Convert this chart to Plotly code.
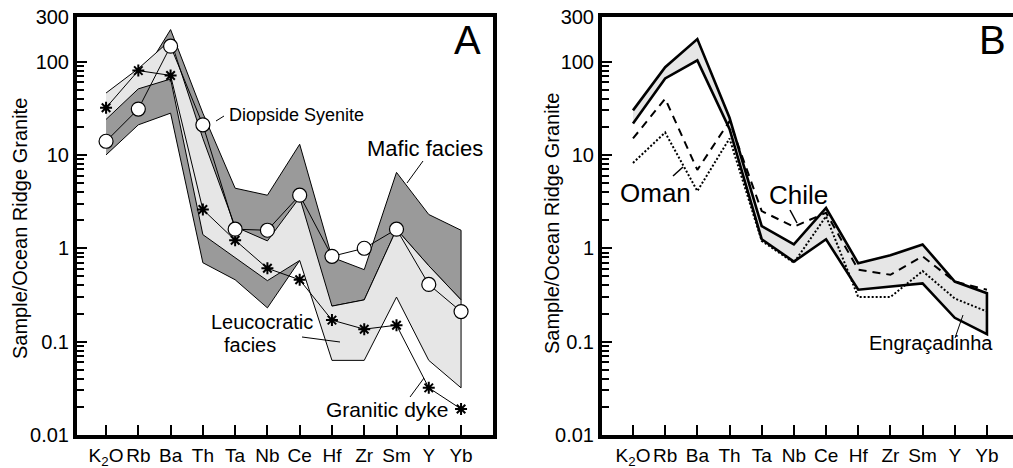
import math
import plotly.graph_objects as go

W, H = 1013, 468

elements = ["K<sub>2</sub>O", "Rb", "Ba", "Th", "Ta", "Nb", "Ce", "Hf", "Zr", "Sm", "Y", "Yb"]

# ---------- Panel A ----------
diopside_syenite = [14, 31, 146, 21, 1.6, 1.56, 3.7, 0.82, 1.0, 1.6, 0.41, 0.21]
granitic_dyke = [32, 80, 71, 2.6, 1.22, 0.61, 0.46, 0.17, 0.136, 0.15, 0.032, 0.019]
mafic_upper = [30, 60, 220, 28, 4.4, 3.7, 13, 0.8, 0.59, 6.5, 2.3, 1.56]
mafic_lower = [10, 21, 28, 0.7, 0.46, 0.23, 0.74, 0.24, 0.28, 1.6, 0.65, 0.28]
leuco_upper = [46, 84, 170, 15, 1.7, 1.2, 3.5, 0.24, 0.28, 1.6, 0.65, 0.28]
leuco_lower = [24, 51, 65, 1.4, 0.8, 0.45, 0.74, 0.063, 0.063, 0.30, 0.063, 0.032]

# ---------- Panel B ----------
engr_upper = [30, 87, 174, 25, 1.73, 1.1, 2.7, 0.69, 0.84, 1.1, 0.44, 0.33]
engr_lower = [21.7, 66, 103, 19, 1.25, 0.72, 1.25, 0.36, 0.39, 0.42, 0.18, 0.12]
chile = [15, 40, 6.9, 23, 2.5, 1.7, 2.4, 0.59, 0.52, 0.82, 0.44, 0.36]
oman = [8.2, 17.4, 4.1, 15, 1.2, 0.7, 2.2, 0.30, 0.30, 0.57, 0.29, 0.21]

y_tickvals = [0.01, 0.1, 1, 10, 100, 300]
y_ticktext = ["0.01", "0.1", "1", "10", "100", "300"]
y_minor = [m * 10 ** k for k in range(-2, 2) for m in range(2, 10)]

FONT = "Liberation Sans, Arial, Helvetica, sans-serif"
DARK = "#9a9a9a"
LIGHT = "#e6e6e6"


def px(x):
    return x / W


def py(y):
    return 1 - y / H


def band(upper, lower):
    return elements + elements[::-1], upper + lower[::-1]


fig = go.Figure()

# Panel A polygons
bx, by = band(mafic_upper, mafic_lower)
fig.add_trace(go.Scatter(x=bx, y=by, fill="toself", fillcolor=DARK, mode="lines",
                         line=dict(color="black", width=1), xaxis="x", yaxis="y",
                         name="Mafic facies", showlegend=False))
bx, by = band(leuco_upper, leuco_lower)
fig.add_trace(go.Scatter(x=bx, y=by, fill="toself", fillcolor=LIGHT, mode="lines",
                         line=dict(color="black", width=1), xaxis="x", yaxis="y",
                         name="Leucocratic facies", showlegend=False))
fig.add_trace(go.Scatter(x=elements, y=granitic_dyke, mode="lines+markers",
                         line=dict(color="black", width=1),
                         marker=dict(symbol="asterisk-open", size=10,
                                     line=dict(color="black", width=2)),
                         xaxis="x", yaxis="y", name="Granitic dyke", showlegend=False,
                         cliponaxis=False))
fig.add_trace(go.Scatter(x=elements, y=diopside_syenite, mode="lines+markers",
                         line=dict(color="black", width=1),
                         marker=dict(symbol="circle", size=14, color="white",
                                     line=dict(color="black", width=1.2)),
                         xaxis="x", yaxis="y", name="Diopside Syenite", showlegend=False))

# Panel B
bx, by = band(engr_upper, engr_lower)
fig.add_trace(go.Scatter(x=bx, y=by, fill="toself", fillcolor=LIGHT, mode="lines",
                         line=dict(color="black", width=2.6), xaxis="x2", yaxis="y2",
                         name="Engraçadinha", showlegend=False))
fig.add_trace(go.Scatter(x=elements, y=chile, mode="lines",
                         line=dict(color="black", width=2, dash="8px,6px"),
                         xaxis="x2", yaxis="y2", name="Chile", showlegend=False))
fig.add_trace(go.Scatter(x=elements, y=oman, mode="lines",
                         line=dict(color="black", width=2, dash="2px,2px"),
                         xaxis="x2", yaxis="y2", name="Oman", showlegend=False))

xcommon = dict(type="category", categoryorder="array", categoryarray=elements,
               showline=True, linewidth=4, linecolor="black", mirror=True,
               ticks="inside", ticklen=10, tickwidth=2, tickcolor="black",
               tickangle=0, automargin=False,
               tickfont=dict(size=19, color="black", family=FONT),
               showgrid=False, zeroline=False, fixedrange=True)
ycommon = dict(type="log", range=[-2, math.log10(300)],
               tickmode="array", tickvals=y_tickvals, ticktext=y_ticktext,
               ticks="inside", ticklen=10, tickwidth=2, tickcolor="black",
               minor=dict(tickmode="array", tickvals=y_minor, ticks="inside",
                          ticklen=7, tickwidth=1.5, tickcolor="black", showgrid=False),
               showline=True, linewidth=4, linecolor="black", automargin=False,
               tickfont=dict(size=20, color="black", family=FONT),
               showgrid=False, zeroline=False, fixedrange=True)

fig.update_layout(
    width=W, height=H, autosize=False,
    margin=dict(l=0, r=0, t=0, b=0),
    paper_bgcolor="white", plot_bgcolor="white",
    font=dict(family=FONT, color="black"),
    showlegend=False,
    xaxis=dict(domain=[px(77), px(493)], range=[-0.9, 11.99], anchor="y", **xcommon),
    yaxis=dict(domain=[py(435), py(17)], anchor="x", mirror=True, **ycommon),
    xaxis2=dict(domain=[px(602), 1.0], range=[-0.963, 11.81], anchor="y2", **xcommon),
    yaxis2=dict(domain=[py(435), py(17)], anchor="x2", mirror=False, **ycommon),
)

ann = []


def text(x, y, s, size, **kw):
    ann.append(dict(x=px(x), y=py(y), xref="paper", yref="paper", text=s,
                    showarrow=False, xanchor="center", yanchor="middle",
                    font=dict(size=size, color="black", family=FONT), **kw))


text(20, 229, "Sample/Ocean Ridge Granite", 20, textangle=-90)
text(552, 224, "Sample/Ocean Ridge Granite", 20, textangle=-90)
text(467, 40, "A", 40)
text(992, 40, "B", 40)
text(296, 115, "Diopside Syenite", 18)
text(425, 148, "Mafic facies", 22)
text(262, 322, "Leucocratic", 20)
text(250, 345, "facies", 20)
text(387, 409, "Granitic dyke", 21)
text(655, 193, "Oman", 26)
text(798, 195, "Chile", 26)
text(931, 343, "Engraçadinha", 20)

shapes = []


def seg(x0, y0, x1, y1, w=1):
    shapes.append(dict(type="line", xref="paper", yref="paper",
                       x0=px(x0), y0=py(y0), x1=px(x1), y1=py(y1),
                       line=dict(color="black", width=w)))


seg(216, 121, 224, 116)
seg(423, 161, 407, 183)
seg(302, 337, 340, 342)
seg(410, 397, 424, 378)
seg(673, 176, 683, 167, 1.5)
seg(790, 210, 797, 223, 1.5)
seg(963, 315, 955, 338)

fig.update_layout(annotations=ann, shapes=shapes)
fig.write_html("out.html")
